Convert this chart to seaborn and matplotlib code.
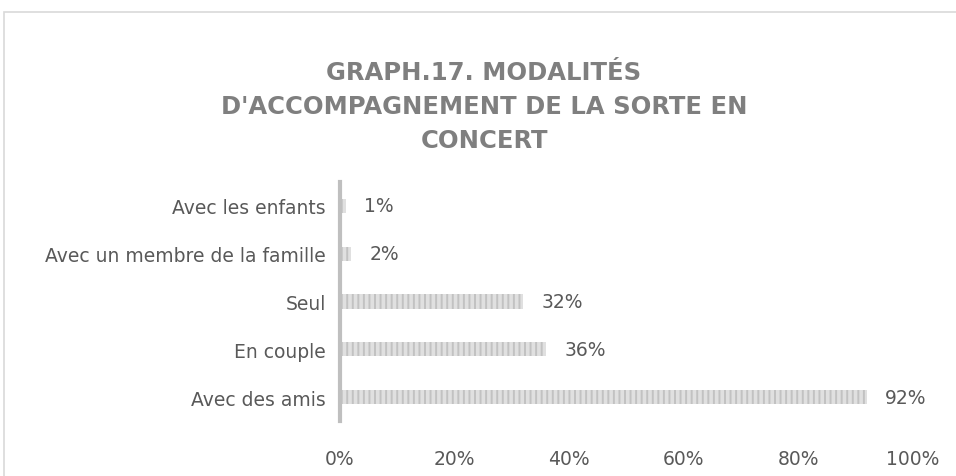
import matplotlib.pyplot as plt
from matplotlib.patches import Rectangle
import seaborn as sns
import pandas as pd

# data (top to bottom)
categories = ['Avec les enfants', 'Avec un membre de la famille', 'Seul',
              'En couple', 'Avec des amis']
values = [1, 2, 32, 36, 92]
xticks = [0, 20, 40, 60, 80, 100]
title = "GRAPH.17. MODALITÉS\nD'ACCOMPAGNEMENT DE LA SORTE EN\nCONCERT"

sns.set_style('white')
plt.rcParams['font.family'] = ['DejaVu Sans']
plt.rcParams['hatch.linewidth'] = 1.4
text_col = '#595959'

df = pd.DataFrame({'cat': categories, 'val': values})

fig = plt.figure(figsize=(9.56, 4.77), dpi=100)
ax = fig.add_axes([340 / 956, 1 - 422 / 477, (913 - 340) / 956, (422 - 183) / 477])

sns.barplot(data=df, x='val', y='cat', orient='h', color='#e0e0e0',
            width=0.3, ax=ax, saturation=1)
for p in ax.patches:
    p.set_hatch('|||')
    p.set_edgecolor('#c2c2c2')
    p.set_linewidth(0)

ax.bar_label(ax.containers[0], labels=[f'{v}%' for v in values], padding=13,
             fontsize=13.5, color=text_col)

ax.set_xlim(0, 100)
ax.set_ylim(4.5, -0.5)
ax.set_xticks(xticks)
ax.set_xticklabels([f'{t}%' for t in xticks], fontsize=13.5, color=text_col)
ax.tick_params(axis='y', labelsize=13.5, labelcolor=text_col, length=0, pad=10)
ax.tick_params(axis='x', length=0, pad=20)
ax.set_xlabel('')
ax.set_ylabel('')
for s in ['top', 'right', 'bottom']:
    ax.spines[s].set_visible(False)
ax.spines['left'].set_color('#bfbfbf')
ax.spines['left'].set_linewidth(3)
ax.set_facecolor('none')

fig.text(484 / 956, 1 - 107 / 477, title, ha='center', va='center',
         fontsize=17.5, fontweight='bold', color='#7f7f7f', linespacing=1.5)

# chart frame (continues past the right and bottom edges)
fig.patches.append(Rectangle((4 / 956, -0.1), 1.2, 1.1 - 13 / 477,
                             transform=fig.transFigure, fill=False,
                             edgecolor='#d9d9d9', linewidth=1.2))

fig.savefig('out.png', dpi=100)
